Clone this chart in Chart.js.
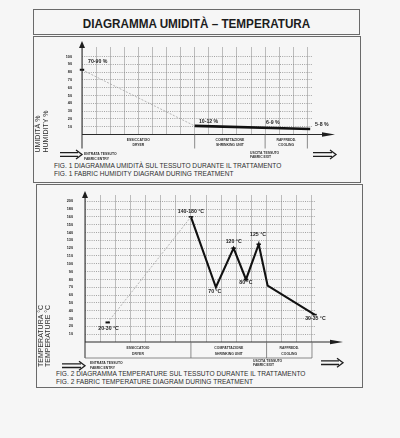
<!DOCTYPE html>
<html>
<head>
<meta charset="utf-8">
<script src="https://cdn.jsdelivr.net/npm/chart.js@4.4.1/dist/chart.umd.min.js"></script>
<style>
html, body { margin: 0; padding: 0; background: #f6f6f6; }
#page { position: relative; width: 400px; height: 438px; overflow: hidden; font-family: "Liberation Sans", Arial, sans-serif; color: #262626; }
.box { position: absolute; border: 1.3px solid #6a6a6a; box-sizing: border-box; }
#title { position: absolute; left: 33px; top: 17px; width: 327px; text-align: center; font-weight: bold; font-size: 13px; line-height: 13px; transform: scaleX(0.9); white-space: nowrap; color: #1c1c1c; }
.cap { position: absolute; font-size: 6.6px; white-space: nowrap; color: #2e2e2e; }
canvas { position: absolute; left: 0; top: 0; }
</style>
</head>
<body>
<div id="page">
  <div class="box" style="left:33px;top:9px;width:327px;height:26px"></div>
  <div id="title">DIAGRAMMA UMIDITÀ – TEMPERATURA</div>
  <div class="box" style="left:33px;top:36px;width:328px;height:147px"></div>
  <div class="box" style="left:36px;top:184px;width:327px;height:204px"></div>
  <div class="cap" style="left:54px;top:162.3px;line-height:7.7px">FIG. 1 DIAGRAMMA UMIDITÀ SUL TESSUTO DURANTE IL TRATTAMENTO<br>FIG. 1 FABRIC HUMIDITY DIAGRAM DURING TREATMENT</div>
  <div class="cap" style="left:56px;top:369.8px;line-height:8.3px">FIG. 2 DIAGRAMMA TEMPERATURE SUL TESSUTO DURANTE IL TRATTAMENTO<br>FIG. 2 FABRIC TEMPERATURE DIAGRAM DURING TREATMENT</div>
  <canvas id="humChart" width="400" height="438"></canvas>
  <canvas id="tempChart" width="400" height="438"></canvas>
</div>
<script>
// treatment stages, shared by both figures
const stages = [['ESSICCATOIO', 'DRYER'], ['COMPATTAZIONE', 'SHRINKING UNIT'], ['RAFFREDD.', 'COOLING']];

// fig. 1 - humidity %, x in grid columns
const humTicks = [10, 20, 30, 40, 50, 60, 70, 80, 90, 100];
const humStageEdges = [0, 8, 13, 16];
const humDryerX = [0, 8];
const humDryerY = [83, 11];
const humTreatX = [8, 16.2];
const humTreatY = [11, 7];
const humNotes = ['70-90 %', '10-12 %', '6-9 %', '5-8 %'];
const humNoteX = [0.43, 8.3, 13.07, 16.55];
const humNoteY = [93.6, 16.7, 15.4, 12.2];

// fig. 2 - temperature °C (scale labels are not evenly spaced above 150)
const tempTicks = [10, 20, 30, 40, 50, 60, 70, 80, 90, 100, 110, 120, 130, 140, 150, 160, 180, 200];
const tempStageEdges = [0, 7, 12, 15];
const tempDryerX = [1.5, 7];
const tempDryerY = [25, 160];
const tempTreatX = [7, 8.65, 9.82, 10.64, 11.48, 12.07, 15.17];
const tempTreatY = [160, 70, 120, 80, 125, 72, 35];
const tempNotes = ['20-30 °C', '140-180 °C', '70 °C', '120 °C', '80 °C', '125 °C', '30-35 °C'];
const tempNoteX = [0.88, 6.13, 8.15, 9.3, 10.2, 10.91, 14.55];
const tempNoteY = [17.3, 173.8, 64.1, 128, 75.6, 137, 30];

// °C -> position on the tick ladder
function tempPos(v) {
  const stops = [0].concat(tempTicks);
  for (let i = 1; i < stops.length; i++) {
    if (v <= stops[i]) return i - 1 + (v - stops[i - 1]) / (stops[i] - stops[i - 1]);
  }
  return stops.length - 1 + (v - stops[stops.length - 1]) / 20;
}

const FONT = '"Liberation Sans", Arial, sans-serif';
Chart.defaults.font.family = FONT;
Chart.defaults.animation = false;

function dblArrow(ctx, x0, x1, y) {
  ctx.save();
  ctx.strokeStyle = '#1e1e1e';
  ctx.lineWidth = 1.3;
  ctx.beginPath();
  ctx.moveTo(x0, y - 1.8); ctx.lineTo(x1 - 4, y - 1.8);
  ctx.moveTo(x0, y + 1.8); ctx.lineTo(x1 - 4, y + 1.8);
  ctx.stroke();
  ctx.beginPath();
  ctx.moveTo(x1 - 6, y - 4.5); ctx.lineTo(x1, y); ctx.lineTo(x1 - 6, y + 4.5);
  ctx.stroke();
  ctx.restore();
}

function schema(o) {
  return {
    id: 'schema',
    afterDatasetsDraw(chart) {
      const { ctx, chartArea: a, scales } = chart;
      const X = v => scales.x.getPixelForValue(v);
      const Y = v => scales.y.getPixelForValue(o.mapY ? o.mapY(v) : v);
      const base = a.bottom, left = a.left;
      const seg = (x1, y1, x2, y2) => { ctx.beginPath(); ctx.moveTo(x1, y1); ctx.lineTo(x2, y2); ctx.stroke(); };
      ctx.save();
      // axes with arrow heads
      ctx.strokeStyle = '#2a2a2a'; ctx.fillStyle = '#1e1e1e'; ctx.lineWidth = 1;
      seg(left, base + o.band, left, o.yTip + 6);
      ctx.beginPath(); ctx.moveTo(left, o.yTip); ctx.lineTo(left - 3, o.yTip + 7); ctx.lineTo(left + 3, o.yTip + 7); ctx.closePath(); ctx.fill();
      seg(left, base, o.xTip - 10, base);
      ctx.beginPath(); ctx.moveTo(o.xTip, base); ctx.lineTo(o.xTip - 13, base - 2.2); ctx.lineTo(o.xTip - 13, base + 2.2); ctx.closePath(); ctx.fill();
      // stage band under the axis
      ctx.strokeStyle = '#6f6f6f'; ctx.lineWidth = 0.8;
      o.edges.slice(1).forEach(e => seg(X(e), base, X(e), base + o.band));
      if (o.bandLine) seg(left, base + o.band, X(o.edges[o.edges.length - 1]), base + o.band);
      ctx.fillStyle = '#2e2e2e';
      ctx.font = 'bold 3.4px ' + FONT;
      ctx.textAlign = 'center'; ctx.textBaseline = 'middle';
      stages.forEach((s, i) => {
        const cx = (X(o.edges[i]) + X(o.edges[i + 1])) / 2;
        ctx.fillText(s[0], cx, base + o.rows[0]);
        ctx.fillText(s[1], cx, base + o.rows[1]);
      });
      // fabric entry / exit
      ctx.textAlign = 'left';
      ctx.fillText('ENTRATA TESSUTO', o.entry[0], o.entry[1]);
      ctx.fillText('FABRIC ENTRY', o.entry[0], o.entry[1] + 4.4);
      ctx.fillText('USCITA TESSUTO', o.exit[0], o.exit[1]);
      ctx.fillText('FABRIC EXIT', o.exit[0], o.exit[1] + 4.6);
      dblArrow(ctx, o.inArrow[0], o.inArrow[1], o.inArrow[2]);
      dblArrow(ctx, o.outArrow[0], o.outArrow[1], o.outArrow[2]);
      // value notes
      ctx.fillStyle = '#1e1e1e';
      ctx.font = 'bold 5.2px ' + FONT;
      o.notes.forEach((t, i) => ctx.fillText(t, X(o.noteX[i]), Y(o.noteY[i])));
      // vertical axis title
      ctx.fillStyle = '#2e2e2e';
      ctx.font = '7px ' + FONT;
      o.yTitle.forEach((t, i) => {
        ctx.save();
        ctx.translate(o.yTitleX[i], o.yTitleBottom);
        ctx.rotate(-Math.PI / 2);
        ctx.fillText(t, 0, 0);
        ctx.restore();
      });
      ctx.restore();
    }
  };
}

function axes(xMax, yMax, yStep, tickLabel, xLast, yOk, labelPad, yWidth) {
  return {
    x: {
      type: 'linear', min: 0, max: xMax,
      ticks: { display: false, stepSize: 1, includeBounds: false },
      grid: { drawTicks: false, lineWidth: 0.7, color: c => (c.tick && c.tick.value <= xLast) ? '#a4a4a4' : 'rgba(0,0,0,0)' },
      border: { display: false },
      afterFit: s => { s.height = 0; }
    },
    y: {
      type: 'linear', min: 0, max: yMax,
      ticks: { stepSize: yStep, includeBounds: false, autoSkip: false, padding: labelPad, color: '#222', font: { size: 3.8, weight: 'bold' }, callback: tickLabel },
      grid: { drawTicks: false, lineWidth: 0.7, color: c => (c.tick && yOk(c.tick.value)) ? '#808080' : 'rgba(0,0,0,0)' },
      border: { display: false, dash: [1, 1.2] },
      afterFit: s => { s.width = yWidth; }
    }
  };
}

function lineSets(dx, dy, tx, ty, mapY, treatWidth, treatMarks) {
  const pts = (xs, ys) => xs.map((v, i) => ({ x: v, y: mapY(ys[i]) }));
  return [
    {
      data: pts(dx, dy), borderColor: '#9a9a9a', borderWidth: 0.7, borderDash: [2, 1.5],
      pointStyle: 'line', pointRadius: [2.2, 0], pointBorderWidth: 2, pointBorderColor: '#111', clip: false
    },
    {
      data: pts(tx, ty), borderColor: '#111', borderWidth: treatWidth, borderJoinStyle: 'miter',
      pointStyle: 'line', pointRadius: treatMarks, pointBorderWidth: 1.6, pointBorderColor: '#111', clip: false
    }
  ];
}

let humidityChart, temperatureChart;

function charts_load() {
  const same = v => v;
  humidityChart = new Chart(document.getElementById('humChart').getContext('2d'), {
    type: 'line',
    data: { datasets: lineSets(humDryerX, humDryerY, humTreatX, humTreatY, same, 2.6, 0) },
    options: {
      responsive: false,
      layout: { padding: { left: 0, top: 47, right: 87, bottom: 303.5 } },
      plugins: { legend: { display: false }, tooltip: { enabled: false } },
      scales: axes(16.4, 112.2, 10, v => humTicks.includes(v) ? String(v) : '', 16, v => v >= 10 && v <= 100, 10, 82)
    },
    plugins: [schema({
      yTip: 41, xTip: 335, band: 14, bandLine: false, rows: [5.3, 10.3], edges: humStageEdges,
      entry: [84, 154.3], exit: [250, 152.7], inArrow: [60, 82, 154.5], outArrow: [313, 336, 154.5],
      notes: humNotes, noteX: humNoteX, noteY: humNoteY,
      yTitle: ['UMIDITÀ %', 'HUMIDITY %'], yTitleX: [38.5, 46.5], yTitleBottom: 152.5
    })]
  });

  temperatureChart = new Chart(document.getElementById('tempChart').getContext('2d'), {
    type: 'line',
    data: { datasets: lineSets(tempDryerX, tempDryerY, tempTreatX, tempTreatY, tempPos, 2.1, [2.2, 0, 2.2, 2.2, 2.2, 0, 2.2]) },
    options: {
      responsive: false,
      layout: { padding: { left: 0, top: 195, right: 85, bottom: 96 } },
      plugins: { legend: { display: false }, tooltip: { enabled: false } },
      scales: axes(15.2, 18.8, 1, v => tempTicks[v - 1] !== undefined ? String(tempTicks[v - 1]) : '', 15, v => v >= 1 && v <= 18, 12, 85)
    },
    plugins: [schema({
      yTip: 191, xTip: 343, band: 16, bandLine: true, rows: [6, 11.8], edges: tempStageEdges, mapY: tempPos,
      entry: [90, 363.3], exit: [253, 360.7], inArrow: [62, 85, 365.7], outArrow: [321, 343, 362.7],
      notes: tempNotes, noteX: tempNoteX, noteY: tempNoteY,
      yTitle: ['TEMPERATURA °C', 'TEMPERATURE °C'], yTitleX: [41, 48], yTitleBottom: 367
    })]
  });
}

charts_load();
</script>
</body>
</html>
